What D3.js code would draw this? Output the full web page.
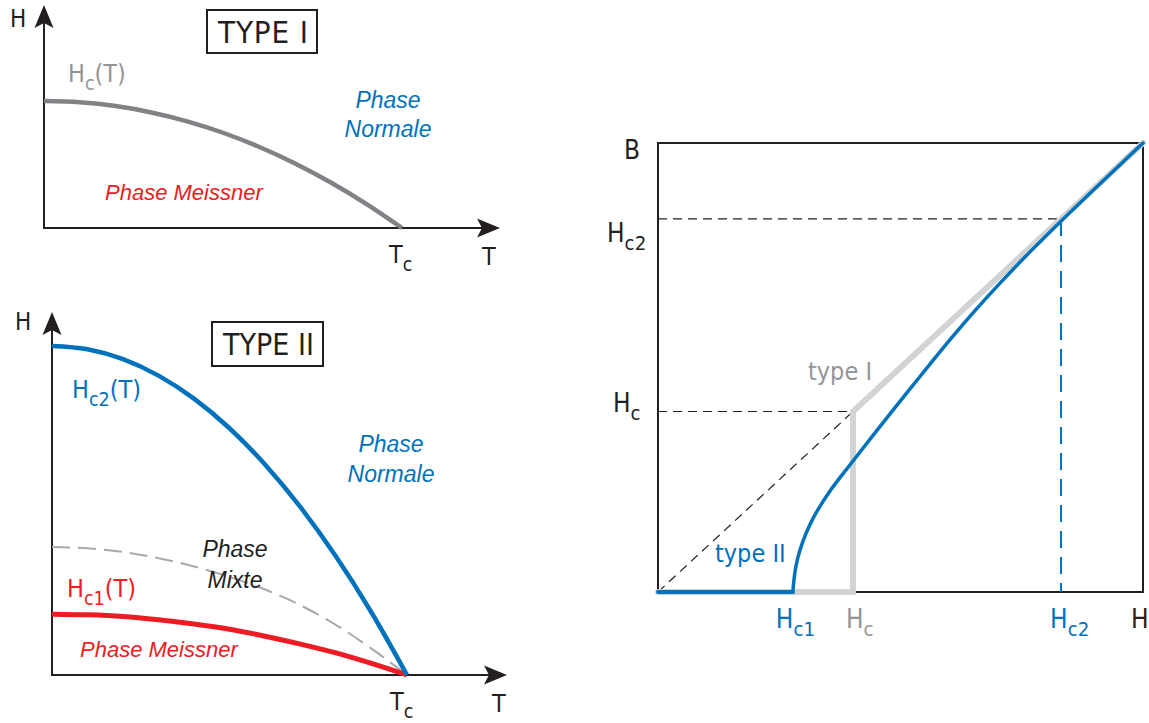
<!DOCTYPE html>
<html><head><meta charset="utf-8">
<script src="https://cdn.jsdelivr.net/npm/d3@7"></script>
<style>
body{margin:0;background:#fff}
svg{display:block}
text{font-family:"Liberation Sans Narrow","DejaVu Sans Condensed","Liberation Sans",sans-serif}
.it{font-family:"Liberation Sans","Arial",sans-serif;font-style:italic}
</style>
</head><body>
<svg id="c" width="1149" height="723"></svg>
<script>
// ---------- data (normalised units) ----------
const tGrid      = [0, 0.1, 0.2, 0.3, 0.4, 0.5, 0.6, 0.7, 0.8, 0.9, 1.0];
// Type I : critical field Hc(T) / Hc(0)
const hcTypeI    = [1.00, 0.99, 0.96, 0.91, 0.84, 0.75, 0.64, 0.51, 0.36, 0.19, 0.00];
// Type II : Hc2(T), thermodynamic Hc(T) (dashed), Hc1(T) in units of Hc2(0)
const hc2TypeII  = [1.00, 0.99, 0.96, 0.91, 0.84, 0.75, 0.64, 0.51, 0.36, 0.19, 0.00];
const hcTypeII   = [0.389, 0.385, 0.374, 0.355, 0.330, 0.298, 0.260, 0.212, 0.152, 0.080, 0.00];
const hc1TypeII  = [0.185, 0.183, 0.178, 0.168, 0.155, 0.139, 0.118, 0.094, 0.067, 0.035, 0.00];

// B(H) panel
const Hc1 = 0.278, Hc = 0.402, Hc2 = 0.831;
const typeIH  = [0, Hc, Hc, 1.0];
const typeIB  = [0, 0, Hc, 1.0];
const typeIIH = [0, 0.278, 0.2804, 0.2845, 0.2928, 0.3052, 0.3216, 0.3546, 0.4021, 0.4433, 0.4845, 0.5258, 0.5670, 0.6082, 0.6495, 0.7052, 0.7670, 0.8330, 1.0];
const typeIIB = [0, 0.000, 0.0267, 0.0579, 0.0935, 0.1305, 0.1679, 0.2249, 0.2918, 0.3488, 0.4049, 0.4606, 0.5158, 0.5697, 0.6218, 0.6880, 0.7575, 0.8281, 1.0];

const bottomTicks = [["H","c1",Hc1,"#0072bc",-17],["H","c",Hc,"#939598",-7],["H","c2",Hc2,"#0072bc",-11],["H","",1.0,"#231f20",-12]];

// ---------- helpers ----------
const svg = d3.select("#c");
const DARK = "#231f20", BLUE = "#0072bc", RED = "#ed1c24";

function label(g, x, y, parts, size, color, opts = {}) {
  const t = g.append("text").attr("x", x).attr("y", y)
    .attr("font-size", size).attr("fill", color)
    .attr("text-anchor", opts.anchor || "start");
  if (opts.cls) t.attr("class", opts.cls);
  let lowered = false;
  parts.forEach(([s, sub]) => {
    const ts = t.append("tspan").text(s);
    if (sub && !lowered) { ts.attr("dy", size * 0.3).attr("font-size", size * 0.78); lowered = true; }
    else if (sub) { ts.attr("font-size", size * 0.78); }
    else if (!sub && lowered) { ts.attr("dy", -size * 0.3); lowered = false; }
  });
  return t;
}
function arrowHead(g, x, y, angle) {
  g.append("path").attr("d", "M0,0 L-23,-9.5 L-18,0 L-23,9.5 Z")
    .attr("fill", DARK).attr("transform", `translate(${x},${y}) rotate(${angle})`);
}
function axes(g, xs, ys, xMax, yMax) {
  g.append("line").attr("x1", xs(0)).attr("y1", ys(0)).attr("x2", xs(0)).attr("y2", ys(yMax) + 17)
    .attr("stroke", DARK).attr("stroke-width", 2);
  g.append("line").attr("x1", xs(0) - 1).attr("y1", ys(0)).attr("x2", xs(xMax) - 17).attr("y2", ys(0))
    .attr("stroke", DARK).attr("stroke-width", 2);
  arrowHead(g, xs(0), ys(yMax), -90);
  arrowHead(g, xs(xMax), ys(0), 0);
}

// ---------- Type I panel ----------
{
  const g = svg.append("g");
  const xs = d3.scaleLinear().domain([0, 1]).range([44, 402]);
  const ys = d3.scaleLinear().domain([0, 1]).range([228, 101]);
  const xMax = xs.invert(500), yMax = ys.invert(5);
  axes(g, xs, ys, xMax, yMax);
  const line = d3.line().x((d, i) => xs(tGrid[i])).y(d => ys(d)).curve(d3.curveMonotoneX);
  g.append("path").attr("d", line(hcTypeI)).attr("fill", "none").attr("stroke", "#808285").attr("stroke-width", 4.5);

  label(g, 10, 27, [["H"]], 24, DARK);
  g.append("rect").attr("x", 207).attr("y", 10).attr("width", 110).attr("height", 43)
    .attr("fill", "none").attr("stroke", DARK).attr("stroke-width", 2);
  g.append("text").attr("x", 218).attr("y", 43).attr("font-size", 31).attr("fill", DARK)
    .attr("textLength", 90).attr("lengthAdjust", "spacing").text("TYPE I");
  label(g, 68, 82, [["H"], ["c", 1], ["(T)"]], 25, "#939598");
  label(g, 388, 108, [["Phase"]], 23, BLUE, { anchor: "middle", cls: "it" });
  label(g, 388, 137, [["Normale"]], 23, BLUE, { anchor: "middle", cls: "it" });
  label(g, 105, 200, [["Phase Meissner"]], 22, RED, { cls: "it" });
  label(g, xs(1) - 13, 263, [["T"], ["c", 1]], 25, DARK);
  label(g, xs(xMax) - 18, 265, [["T"]], 25, DARK);
}

// ---------- Type II panel ----------
{
  const g = svg.append("g");
  const xs = d3.scaleLinear().domain([0, 1]).range([52, 407]);
  const ys = d3.scaleLinear().domain([0, 1]).range([675, 346]);
  const xMax = xs.invert(507), yMax = ys.invert(312);
  axes(g, xs, ys, xMax, yMax);
  const line = d3.line().x((d, i) => xs(tGrid[i])).y(d => ys(d)).curve(d3.curveMonotoneX);
  g.append("path").attr("d", line(hcTypeII)).attr("fill", "none").attr("stroke", "#a7a9ac")
    .attr("stroke-width", 2).attr("stroke-dasharray", "18 8");
  g.append("path").attr("d", line(hc1TypeII)).attr("fill", "none").attr("stroke", RED).attr("stroke-width", 5);
  g.append("path").attr("d", line(hc2TypeII)).attr("fill", "none").attr("stroke", BLUE).attr("stroke-width", 4.5);

  label(g, 15, 330, [["H"]], 24, DARK);
  g.append("rect").attr("x", 212).attr("y", 322).attr("width", 111).attr("height", 44)
    .attr("fill", "none").attr("stroke", DARK).attr("stroke-width", 2);
  g.append("text").attr("x", 223).attr("y", 355).attr("font-size", 30).attr("fill", DARK)
    .attr("textLength", 91).attr("lengthAdjust", "spacing").text("TYPE II");
  label(g, 72, 398, [["H"], ["c2", 1], ["(T)"]], 25, BLUE);
  label(g, 391, 452, [["Phase"]], 23, BLUE, { anchor: "middle", cls: "it" });
  label(g, 391, 482, [["Normale"]], 23, BLUE, { anchor: "middle", cls: "it" });
  label(g, 235, 557, [["Phase"]], 23, DARK, { anchor: "middle", cls: "it" });
  label(g, 235, 588, [["Mixte"]], 23, DARK, { anchor: "middle", cls: "it" });
  label(g, 67, 597, [["H"], ["c1", 1], ["(T)"]], 25, RED);
  label(g, 80, 657, [["Phase Meissner"]], 22, RED, { cls: "it" });
  label(g, xs(1) - 17, 710, [["T"], ["c", 1]], 25, DARK);
  label(g, xs(xMax) - 15, 712, [["T"]], 25, DARK);
}

// ---------- B(H) panel ----------
{
  const g = svg.append("g");
  const xs = d3.scaleLinear().domain([0, 1]).range([658, 1143]);
  const ys = d3.scaleLinear().domain([0, 1]).range([592, 143]);

  g.append("rect").attr("x", xs(0)).attr("y", ys(1)).attr("width", xs(1) - xs(0)).attr("height", ys(0) - ys(1))
    .attr("fill", "none").attr("stroke", DARK).attr("stroke-width", 2);

  const dash = (x1, y1, x2, y2, col, w, da) => g.append("line").attr("x1", x1).attr("y1", y1)
    .attr("x2", x2).attr("y2", y2).attr("stroke", col).attr("stroke-width", w).attr("stroke-dasharray", da);
  dash(xs(0), ys(Hc2), xs(Hc2), ys(Hc2), DARK, 1.2, "9 6");
  dash(xs(0), ys(Hc), xs(Hc), ys(Hc), DARK, 1.2, "9 6");
  dash(xs(0), ys(0), xs(Hc), ys(Hc), DARK, 1.2, "9 6");
  dash(xs(Hc2), ys(Hc2), xs(Hc2), ys(0), BLUE, 2, "17 9");

  const l1 = d3.line().x((d, i) => xs(typeIH[i])).y(d => ys(d));
  g.append("path").attr("d", l1(typeIB)).attr("fill", "none").attr("stroke", "#d1d3d4")
    .attr("stroke-width", 6).attr("stroke-linejoin", "miter").attr("stroke-linecap", "round");

  // type II: flat Meissner part, then smooth mixed-state curve from Hc1
  const pts = typeIIH.map((h, i) => [h, typeIIB[i]]);
  const lin = d3.line().x(d => xs(d[0])).y(d => ys(d[1]));
  const crv = d3.line().x(d => xs(d[0])).y(d => ys(d[1])).curve(d3.curveCatmullRom.alpha(0.5));
  g.append("path").attr("d", lin(pts.slice(0, 2))).attr("fill", "none").attr("stroke", BLUE)
    .attr("stroke-width", 4).attr("stroke-linecap", "round");
  g.append("path").attr("d", crv(pts.slice(1))).attr("fill", "none").attr("stroke", BLUE)
    .attr("stroke-width", 3.5).attr("stroke-linecap", "round");

  bottomTicks.forEach(([m, s, v, col, off]) => {
    const parts = s ? [[m], [s, 1]] : [[m]];
    label(g, xs(v) + off, 628, parts, 26, col);
  });
  label(g, 624, 159, [["B"]], 26, DARK);
  label(g, 607, 242, [["H"], ["c2", 1]], 26, DARK);
  label(g, 613, 412, [["H"], ["c", 1]], 26, DARK);
  label(g, 808, 380, [["type I"]], 25, "#939598");
  label(g, 715, 562, [["type II"]], 25, BLUE);
}
</script>
</body></html>
